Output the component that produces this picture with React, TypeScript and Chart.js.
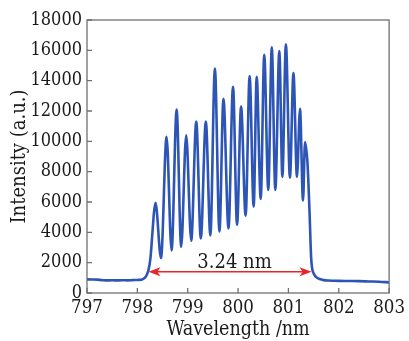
import React, { useEffect, useRef } from "react";
import { Chart, registerables } from "chart.js";
Chart.register(...registerables);

const wavelength = [
  797.0, 797.1, 797.2, 797.3, 797.4, 797.5, 797.6, 797.7, 797.8, 797.9, 798.0, 798.08, 798.13, 798.18,
  798.22, 798.26, 798.3, 798.33, 798.36, 798.47, 798.58, 798.68, 798.78, 798.87, 798.97, 799.07, 799.17,
  799.26, 799.36, 799.45, 799.54, 799.63, 799.71, 799.81, 799.9, 799.98, 800.06, 800.15, 800.23, 800.31,
  800.37, 800.45, 800.52, 800.6, 800.67, 800.74, 800.82, 800.88, 800.95, 801.03, 801.1, 801.17, 801.23,
  801.29, 801.33, 801.38, 801.42, 801.45, 801.47, 801.5, 801.55, 801.62, 801.7, 801.8, 801.9, 802.0,
  802.2, 802.4, 802.6, 802.8, 803.0,
];
const intensity = [
  900, 890, 880, 850, 830, 840, 830, 840, 835, 850, 860, 880, 950, 1150,
  1500, 2300, 4000, 5300, 5950, 2300, 10300, 2800, 12100, 3050, 10400, 3450, 11300,
  3600, 11300, 3800, 14800, 4050, 12800, 4250, 13600, 4500, 12300, 5100, 14300, 5700,
  14250, 6200, 15700, 6800, 16200, 6800, 15950, 7650, 16400, 7600, 14500, 7650, 12150,
  6100, 9950, 8500, 5300, 2400, 1650, 1300, 1050, 920, 850, 820, 810, 800,
  790, 780, 760, 740, 700,
];
const xTicks = [797, 798, 799, 800, 801, 802, 803];
const yTicks = [0, 2000, 4000, 6000, 8000, 10000, 12000, 14000, 16000, 18000];
const arrowFrom = 798.22;
const arrowTo = 801.46;
const arrowLevel = 1400;
const labelText = "3.24 nm";
const labelX = 799.93;
const labelY = 1980;

const FONT = "'DejaVu Serif Condensed', 'DejaVu Serif', 'Liberation Serif', serif";
const AXIS = "#707070";

const decor = {
  id: "decor",
  afterDraw(chart: any) {
    const { ctx, chartArea: a, scales } = chart;
    const x = scales.x;
    const y = scales.y;
    ctx.save();
    ctx.strokeStyle = AXIS;
    ctx.lineWidth = 1.3;
    ctx.strokeRect(a.left, a.top, a.right - a.left, a.bottom - a.top);
    ctx.beginPath();
    xTicks.forEach((v) => {
      const px = x.getPixelForValue(v);
      ctx.moveTo(px, a.bottom);
      ctx.lineTo(px, a.bottom - 5);
    });
    yTicks.forEach((v) => {
      const py = y.getPixelForValue(v);
      ctx.moveTo(a.left, py);
      ctx.lineTo(a.left + 5, py);
    });
    ctx.stroke();

    // arrow
    const x1 = x.getPixelForValue(arrowFrom);
    const x2 = x.getPixelForValue(arrowTo);
    const ay = y.getPixelForValue(arrowLevel);
    ctx.strokeStyle = "#e8262a";
    ctx.fillStyle = "#e8262a";
    ctx.lineWidth = 1.6;
    ctx.beginPath();
    ctx.moveTo(x1 + 6, ay);
    ctx.lineTo(x2 - 6, ay);
    ctx.stroke();
    const head = (tip: number, dir: number) => {
      ctx.beginPath();
      ctx.moveTo(tip, ay);
      ctx.lineTo(tip + dir * 12, ay - 4.5);
      ctx.lineTo(tip + dir * 9, ay);
      ctx.lineTo(tip + dir * 12, ay + 4.5);
      ctx.closePath();
      ctx.fill();
    };
    head(x1, 1);
    head(x2, -1);

    ctx.fillStyle = "#1a1a1a";
    ctx.font = `20px ${FONT}`;
    ctx.textAlign = "center";
    ctx.textBaseline = "middle";
    ctx.fillText(labelText, x.getPixelForValue(labelX), y.getPixelForValue(labelY));
    ctx.restore();
  },
};

export default function App() {
  const ref = useRef<HTMLCanvasElement>(null);
  useEffect(() => {
    if (!ref.current) return;
    const points = wavelength.map((w, i) => ({ x: w, y: intensity[i] }));
    const chart = new Chart(ref.current, {
      type: "line",
      data: {
        datasets: [
          {
            data: points,
            borderColor: "#2d55b6",
            borderWidth: 2.6,
            pointRadius: 0,
            fill: false,
            cubicInterpolationMode: "monotone",
          },
        ],
      },
      options: {
        animation: false,
        responsive: true,
        maintainAspectRatio: false,
        layout: { padding: { top: 20, right: 19, left: 0, bottom: 0 } },
        plugins: { legend: { display: false }, tooltip: { enabled: false } },
        scales: {
          x: {
            type: "linear",
            min: 797,
            max: 803,
            afterFit: (s: any) => {
              s.height = 48;
            },
            ticks: {
              stepSize: 1,
              padding: 4,
              color: "#1a1a1a",
              font: { family: FONT, size: 18.5 },
              callback: (v: any) => String(v),
              maxRotation: 0,
            },
            grid: { display: false, drawTicks: false },
            border: { display: false },
            title: {
              display: true,
              text: "Wavelength /nm",
              color: "#1a1a1a",
              font: { family: FONT, size: 19.5 },
              padding: { top: 0, bottom: -1 },
            },
          },
          y: {
            min: 0,
            max: 18000,
            afterFit: (s: any) => {
              s.width = 87;
            },
            ticks: {
              stepSize: 2000,
              padding: 5,
              color: "#1a1a1a",
              font: { family: FONT, size: 18 },
              callback: (v: any) => String(v),
            },
            grid: { display: false, drawTicks: false },
            border: { display: false },
            title: {
              display: true,
              text: "Intensity (a.u.)",
              color: "#1a1a1a",
              font: { family: FONT, size: 20 },
              padding: { top: 8, bottom: 0 },
            },
          },
        },
      },
      plugins: [decor],
    });
    return () => chart.destroy();
  }, []);
  return (
    <div style={{ position: "fixed", left: 0, top: 0, width: 409, height: 341, background: "#fff" }}>
      <canvas ref={ref} />
    </div>
  );
}
